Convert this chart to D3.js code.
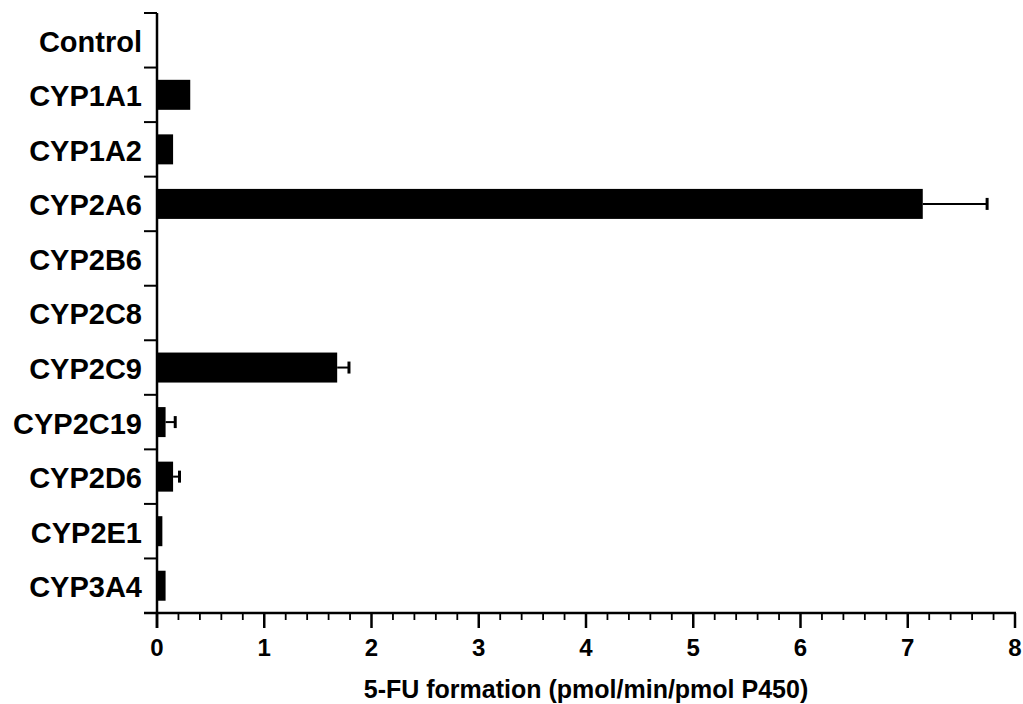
<!DOCTYPE html>
<html><head><meta charset="utf-8">
<script src="https://cdn.jsdelivr.net/npm/d3@7"></script>
<style>body{margin:0;background:#fff}svg{display:block}text{font-family:"Liberation Sans",Arial,sans-serif;font-weight:bold;fill:#000}</style>
</head><body>
<svg id="c" width="1023" height="704"></svg>
<script>
const categories = ["Control","CYP1A1","CYP1A2","CYP2A6","CYP2B6","CYP2C8","CYP2C9","CYP2C19","CYP2D6","CYP2E1","CYP3A4"];
const values = [0, 0.31, 0.15, 7.14, 0, 0, 1.68, 0.08, 0.15, 0.05, 0.08];
const errors = [0, 0, 0, 0.60, 0, 0, 0.11, 0.09, 0.06, 0, 0];
const xTicks = [0,1,2,3,4,5,6,7,8];
const xTitle = "5-FU formation (pmol/min/pmol P450)";

const svg = d3.select("#c");
const x = d3.scaleLinear().domain([0,8]).range([157,1015]);
const y = d3.scaleBand().domain(categories).range([13,613]).paddingInner(0.45).paddingOuter(0.225);
const yEdge = d3.scaleLinear().domain([0,categories.length]).range([13,613]);

// bars
svg.selectAll("rect.bar").data(categories).join("rect")
  .attr("x", x(0)).attr("y", d=>y(d))
  .attr("width", (d,i)=>x(values[i])-x(0)).attr("height", y.bandwidth()).attr("fill","#000");

// error bars
const eb = categories.map((c,i)=>({c,v:values[i],e:errors[i]})).filter(d=>d.e>0);
svg.selectAll("line.err").data(eb).join("line")
  .attr("x1", d=>x(d.v)).attr("x2", d=>x(d.v+d.e))
  .attr("y1", d=>y(d.c)+y.bandwidth()/2).attr("y2", d=>y(d.c)+y.bandwidth()/2)
  .attr("stroke","#000").attr("stroke-width",2);
svg.selectAll("line.cap").data(eb).join("line")
  .attr("x1", d=>x(d.v+d.e)).attr("x2", d=>x(d.v+d.e))
  .attr("y1", d=>y(d.c)+y.bandwidth()/2-6).attr("y2", d=>y(d.c)+y.bandwidth()/2+6)
  .attr("stroke","#000").attr("stroke-width",3);

// y axis
const g = svg.append("g");
g.append("line").attr("x1",x(0)).attr("x2",x(0)).attr("y1",13).attr("y2",628).attr("stroke","#000").attr("stroke-width",2.5);
g.selectAll("line.yt").data(d3.range(categories.length+1)).join("line")
  .attr("x1",x(0)-13).attr("x2",x(0)).attr("y1",d=>yEdge(d)).attr("y2",d=>yEdge(d))
  .attr("stroke","#000").attr("stroke-width",2);
g.selectAll("text.yl").data(categories).join("text")
  .attr("x",142).attr("y",d=>y(d)+y.bandwidth()/2+1).attr("dy","0.36em")
  .attr("text-anchor","end").style("font-size","29px").text(d=>d);

// x axis
g.append("line").attr("x1",x(0)-13).attr("x2",x(8)+1).attr("y1",613).attr("y2",613).attr("stroke","#000").attr("stroke-width",2.5);
const minor = d3.range(0,41).map(i=>i/5).filter(v=>Math.abs(v-Math.round(v))>1e-6);
g.selectAll("line.mt").data(minor).join("line")
  .attr("x1",d=>x(d)).attr("x2",d=>x(d)).attr("y1",613).attr("y2",620).attr("stroke","#000").attr("stroke-width",1.8);
g.selectAll("line.Mt").data(xTicks).join("line")
  .attr("x1",d=>x(d)).attr("x2",d=>x(d)).attr("y1",613).attr("y2",628).attr("stroke","#000").attr("stroke-width",2.5);
g.selectAll("text.xl").data(xTicks).join("text")
  .attr("x",d=>x(d)).attr("y",656).attr("text-anchor","middle").style("font-size","24px").text(d=>d);
g.append("text").attr("x",586).attr("y",698).attr("text-anchor","middle").style("font-size","25px").text(xTitle);
</script>
</body></html>
